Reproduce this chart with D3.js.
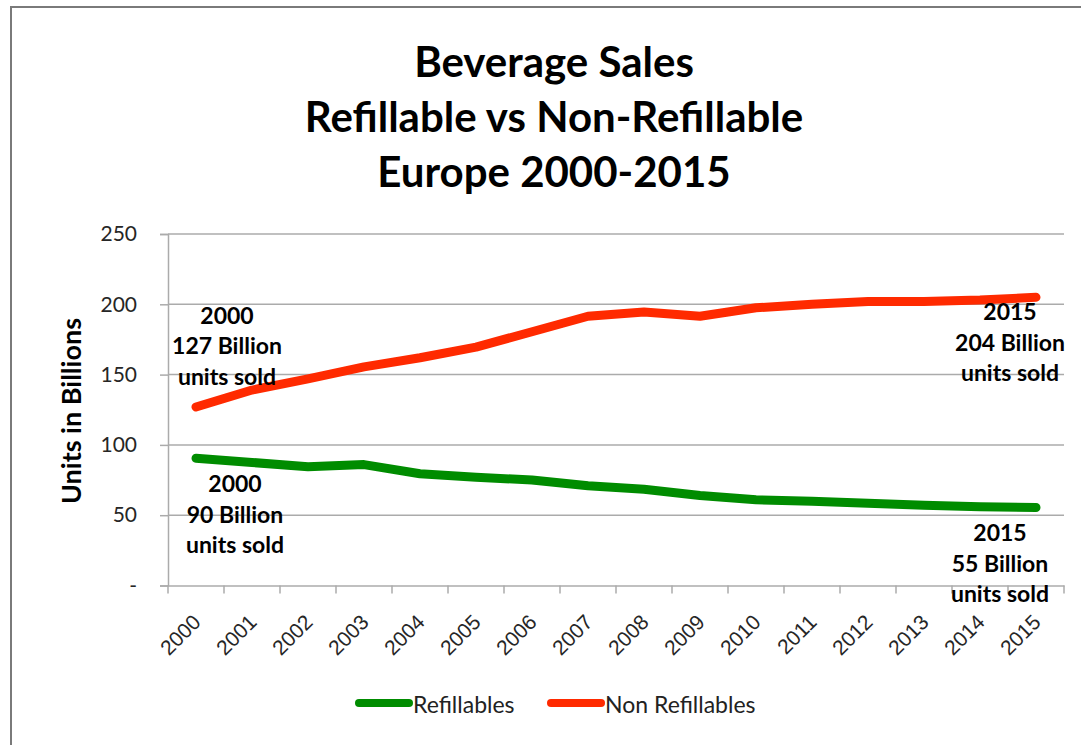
<!DOCTYPE html>
<html>
<head>
<meta charset="utf-8">
<script src="https://cdn.jsdelivr.net/npm/d3@7"></script>
<style>
  html, body { margin: 0; padding: 0; background: #fff; }
  svg { display: block; font-family: Lato, "Open Sans", sans-serif; }
</style>
</head>
<body>
<div id="chart"></div>
<script>
// data
const years = ["2000", "2001", "2002", "2003", "2004", "2005", "2006", "2007",
               "2008", "2009", "2010", "2011", "2012", "2013", "2014", "2015"];
const refillables = [90.5, 87.5, 84.5, 86, 79.5, 77, 75, 71, 68.5, 64, 61, 60, 58.5, 57, 56, 55.5];
const nonRefillables = [127, 139, 147, 155.5, 162, 169.5, 180.5, 191.5, 194.5, 191.5, 197.5, 200, 202, 202, 203, 205];
const yTicks = [0, 50, 100, 150, 200, 250];
const titleLines = ["Beverage Sales", "Refillable vs Non-Refillable", "Europe 2000-2015"];
const seriesNames = ["Refillables", "Non Refillables"];
const notes = [
    { series: 1, year: "2000", lines: ["2000", "127 Billion", "units sold"] },
    { series: 0, year: "2000", lines: ["2000", "90 Billion", "units sold"] },
    { series: 1, year: "2015", lines: ["2015", "204 Billion", "units sold"] },
    { series: 0, year: "2015", lines: ["2015", "55 Billion", "units sold"] }
];

const width = 1081, height = 745;
const plot = { left: 168, right: 1064, top: 234, bottom: 585.5 };
const colors = ["#008c00", "#ff2a00"];
const noteOffsets = [ { dx: 31, dy: -83 }, { dx: 39, dy: 34 }, { dx: -26, dy: 23 }, { dx: -36, dy: 34 } ];

const svg = d3.select("#chart").append("svg")
    .attr("width", width)
    .attr("height", height);

// frame (only top and left edges show in the picture)
svg.append("path")
    .attr("d", `M11,${height} V7 H${width}`)
    .attr("fill", "none")
    .attr("stroke", "#7a7a7a")
    .attr("stroke-width", 2);

const x = d3.scaleBand().domain(years).range([plot.left, plot.right]);
const y = d3.scaleLinear().domain([0, 250]).range([plot.bottom, plot.top]);
const cx = d => x(d) + x.bandwidth() / 2;

// title
svg.append("text")
    .attr("text-anchor", "middle")
    .attr("font-weight", "bold")
    .attr("font-size", 42)
    .attr("fill", "#000")
    .selectAll("tspan")
    .data(titleLines)
    .enter()
    .append("tspan")
    .attr("x", 554)
    .attr("y", (d, i) => 77 + i * 55)
    .text(d => d);

// gridlines
svg.append("g")
    .selectAll("line")
    .data(yTicks.slice(1))
    .enter()
    .append("line")
    .attr("x1", plot.left)
    .attr("x2", plot.right)
    .attr("y1", d => y(d))
    .attr("y2", d => y(d))
    .attr("stroke", "#ababab")
    .attr("stroke-width", 1.5);

// y axis
const yAxis = svg.append("g")
    .attr("transform", `translate(${plot.left},0)`)
    .call(d3.axisLeft(y).tickValues(yTicks).tickSize(8).tickPadding(23)
        .tickFormat(d => d === 0 ? "-" : d));
yAxis.select(".domain").attr("stroke", "#ababab").attr("stroke-width", 1.5);
yAxis.selectAll(".tick line").attr("stroke", "#ababab").attr("stroke-width", 1.5);
yAxis.selectAll(".tick text")
    .attr("font-family", "Lato, sans-serif")
    .attr("font-size", 21)
    .attr("fill", "#262626");

// x axis
const xAxis = svg.append("g")
    .attr("transform", `translate(0,${plot.bottom})`)
    .call(d3.axisBottom(x).tickSize(0).tickFormat(""));
xAxis.select(".domain").attr("stroke", "#ababab").attr("stroke-width", 1.5);
xAxis.selectAll(".tick").remove();

const bounds = years.map(d => x(d)).concat([plot.right]);
xAxis.selectAll("line.cat")
    .data(bounds)
    .enter()
    .append("line")
    .attr("class", "cat")
    .attr("x1", d => d).attr("x2", d => d)
    .attr("y1", 0).attr("y2", 8)
    .attr("stroke", "#ababab")
    .attr("stroke-width", 1.5);

xAxis.selectAll("text.year")
    .data(years)
    .enter()
    .append("text")
    .attr("class", "year")
    .attr("text-anchor", "end")
    .attr("font-size", 21)
    .attr("fill", "#262626")
    .attr("transform", d => `translate(${cx(d) + 6},${38}) rotate(-45)`)
    .text(d => d);

// y axis title
svg.append("text")
    .attr("transform", `translate(81,411) rotate(-90)`)
    .attr("text-anchor", "middle")
    .attr("font-weight", "bold")
    .attr("font-size", 27)
    .attr("fill", "#000")
    .text("Units in Billions");

// lines
const line = d3.line()
    .x((d, i) => cx(years[i]))
    .y(d => y(d));

[refillables, nonRefillables].forEach((values, s) => {
    svg.append("path")
        .datum(values)
        .attr("d", line)
        .attr("fill", "none")
        .attr("stroke", colors[s])
        .attr("stroke-width", 9)
        .attr("stroke-linejoin", "round")
        .attr("stroke-linecap", "round");
});

// annotations anchored on the end points
const seriesValues = [refillables, nonRefillables];
notes.forEach((n, i) => {
    const px = cx(n.year);
    const py = y(seriesValues[n.series][years.indexOf(n.year)]);
    const off = noteOffsets[i];
    svg.append("text")
        .attr("text-anchor", "middle")
        .attr("font-weight", "bold")
        .attr("font-size", 23)
        .attr("fill", "#000")
        .selectAll("tspan")
        .data(n.lines)
        .enter()
        .append("tspan")
        .attr("x", px + off.dx)
        .attr("y", (d, j) => py + off.dy + j * 30.5)
        .text(d => d);
});

// legend
const legend = svg.append("g").attr("transform", "translate(0,703)");
const legendX = [355, 547];
seriesNames.forEach((name, s) => {
    const g = legend.append("g").attr("transform", `translate(${legendX[s]},0)`);
    g.append("line")
        .attr("x1", 4).attr("x2", 54)
        .attr("y1", 0).attr("y2", 0)
        .attr("stroke", colors[s])
        .attr("stroke-width", 8)
        .attr("stroke-linecap", "round");
    g.append("text")
        .attr("x", 58)
        .attr("y", 10)
        .attr("font-size", 23)
        .attr("fill", "#222")
        .text(name);
});
</script>
</body>
</html>
